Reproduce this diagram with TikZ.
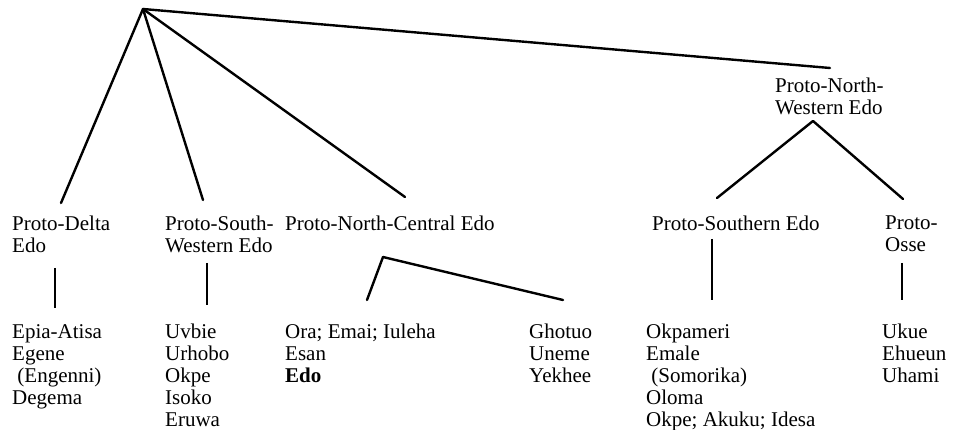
\documentclass[tikz,border=0pt]{standalone}
\usepackage{fontspec}
\setmainfont{Liberation Serif}
\usetikzlibrary{positioning}
\tikzset{%
	% Specifications for style of nodes:
	base/.style = {inner sep=0pt, align=left, anchor=north west,
				   font=\fontsize{21}{22}\selectfont},
	proto/.style = {base},
	lang/.style = {base},
	% Specifications for style of lines:
	branch/.style = {line width=2.4pt, line cap=round},
	stem/.style = {line width=1.8pt},
}
\begin{document}
\begin{tikzpicture}[x=1pt, y=-1pt]
	\useasboundingbox (0,0) rectangle (961,430);

	% Specification of nodes (position, etc.)

	\coordinate (root) at (143,9);
	\node (delta)        [proto] at (12,216)  {Proto-Delta\\Edo};
	\node (southWest)    [proto] at (165,216) {Proto-South-\\Western Edo};
	\node (northCentral) [proto] at (285,216) {Proto-North-Central Edo};
	\node (northWest)    [proto] at (775,78)  {Proto-North-\\Western Edo};
	\node (southern)     [proto] at (652,216) {Proto-Southern Edo};
	\node (osse)         [proto] at (885,216) {Proto-\\Osse};

	\node (deltaLangs)    [lang] at (12,324)  {Epia-Atisa\\Egene\\\ (Engenni)\\Degema};
	\node (swLangs)       [lang] at (165,324) {Uvbie\\Urhobo\\Okpe\\Isoko\\Eruwa};
	\node (ncLangs)       [lang] at (285,324) {Ora; Emai; Iuleha\\Esan\\\textbf{Edo}};
	\node (ghotuo)        [lang] at (529,324) {Ghotuo\\Uneme\\Yekhee};
	\node (southernLangs) [lang] at (646,324) {Okpameri\\Emale\\\ (Somorika)\\Oloma\\Okpe; Akuku; Idesa};
	\node (osseLangs)     [lang] at (882,324) {Ukue\\Ehueun\\Uhami};

	% forks and stems below the proto-languages
	\coordinate (ncFork)       at ([xshift=98pt,yshift=-41pt]northCentral.north west);
	\coordinate (nwFork)       at ([xshift=38pt,yshift=-43pt]northWest.north west);
	\coordinate (deltaStem)    at ([xshift=43pt,yshift=-52pt]delta.north west);
	\coordinate (swStem)       at ([xshift=42pt,yshift=-47pt]southWest.north west);
	\coordinate (southernStem) at ([xshift=60pt,yshift=-23pt]southern.north west);
	\coordinate (osseStem)     at ([xshift=17pt,yshift=-47pt]osse.north west);

	% Specification of lines between nodes specified above

	\draw[branch] (root) -- ([xshift=49pt,yshift=13pt]delta.north west);
	\draw[branch] (root) -- ([xshift=38pt,yshift=16pt]southWest.north west);
	\draw[branch] (root) -- ([xshift=120pt,yshift=19pt]northCentral.north west);
	\draw[branch] (root) -- ([xshift=55pt,yshift=10pt]northWest.north west);

	\draw[branch] (nwFork) -- ([xshift=65pt,yshift=18pt]southern.north west);
	\draw[branch] (nwFork) -- ([xshift=18pt,yshift=17pt]osse.north west);
	\draw[branch] (ncFork) -- ([xshift=82pt,yshift=24pt]ncLangs.north west);
	\draw[branch] (ncFork) -- ([xshift=34pt,yshift=24pt]ghotuo.north west);

	\draw[stem, shorten >=16pt] (deltaStem) -- (deltaStem |- deltaLangs.north);
	\draw[stem, shorten >=19pt] (swStem) -- (swStem |- swLangs.north);
	\draw[stem, shorten >=24pt] (southernStem) -- (southernStem |- southernLangs.north);
	\draw[stem, shorten >=24pt] (osseStem) -- (osseStem |- osseLangs.north);

\end{tikzpicture}
\end{document}
